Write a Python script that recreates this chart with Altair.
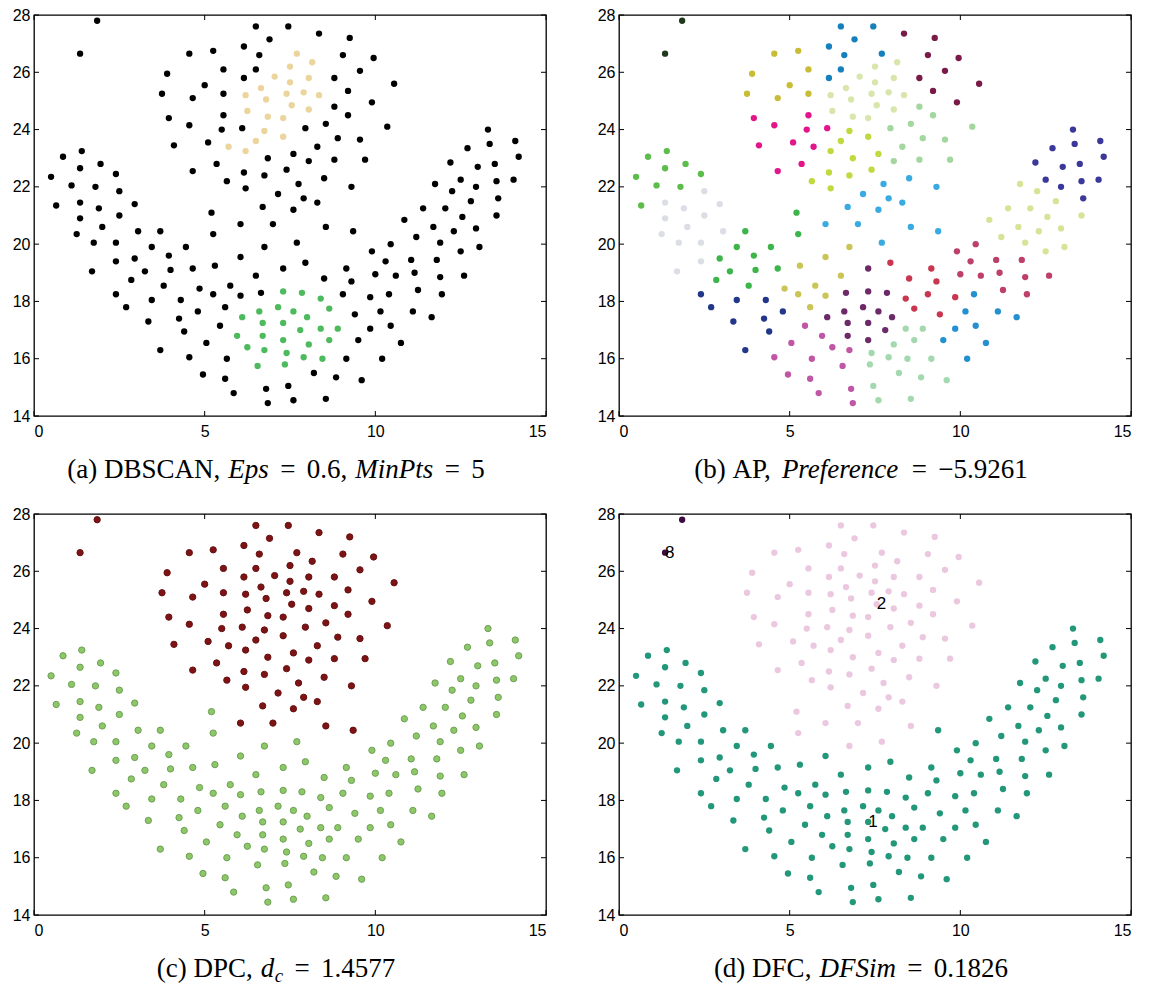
import altair as alt
import pandas as pd

# ---------------- point coordinates, grouped by the AP clusters of panel (b) ----------------
OUTLIERS = [(1.85, 27.8), (1.35, 26.65)]
GREEN_L = [(0.85, 23.05), (1.4, 23.25), (1.95, 22.8), (1.35, 22.65), (0.5, 22.35), (1.1, 22.05),
           (1.8, 22.0), (2.4, 22.45), (0.65, 21.35)]
GRAY = [(1.35, 21.45), (1.9, 21.25), (2.5, 21.85), (2.95, 21.4), (2.5, 21.0), (1.35, 20.9),
        (2.0, 20.6), (1.25, 20.35), (1.75, 20.05), (2.4, 20.05), (3.05, 20.45), (2.4, 19.4), (1.7, 19.05)]
GREEN_M = [(5.2, 21.1), (3.7, 20.45), (3.45, 19.9), (2.95, 19.5), (3.95, 19.6), (4.45, 19.9),
           (5.25, 20.35), (3.25, 19.05), (4.0, 19.1), (4.65, 19.15), (2.85, 18.75), (3.8, 18.55)]
NAVY = [(2.4, 18.25), (2.7, 17.8), (3.45, 18.05), (4.3, 18.05), (3.35, 17.3), (4.25, 17.4),
        (4.8, 17.65), (4.4, 16.95), (3.7, 16.3)]
OLIVE_T = [(3.75, 25.25), (3.9, 25.95), (4.55, 26.65), (5.25, 26.75), (5.55, 26.1), (5.0, 25.55),
           (4.65, 25.1), (5.55, 25.25)]
MAGENTA = [(3.95, 24.4), (4.55, 24.15), (4.1, 23.45), (5.1, 23.55), (5.55, 24.5), (5.5, 24.0),
           (5.7, 23.4), (6.1, 24.05), (5.35, 22.8), (4.65, 22.55)]
YGREEN = [(5.65, 22.2), (6.2, 21.95), (6.15, 22.5), (6.75, 22.4), (6.85, 23.0), (6.2, 23.25),
          (6.5, 23.6), (6.75, 23.95), (7.3, 23.75), (7.6, 23.15), (7.4, 22.6)]
BLUE_T = [(6.5, 27.6), (6.9, 27.15), (6.15, 26.9), (6.6, 26.6), (6.5, 26.1), (6.15, 25.8),
          (7.45, 27.6), (7.7, 26.65)]
PALE_C = [(6.2, 25.2), (6.65, 25.45), (6.8, 25.05), (7.05, 25.85), (6.25, 24.65), (6.85, 24.45),
          (7.3, 24.4), (7.5, 26.2), (8.15, 26.35), (7.5, 25.65), (8.05, 25.8), (7.4, 25.25),
          (7.9, 25.3), (8.35, 25.2), (7.55, 24.85), (8.05, 24.7)]
MINT_T = [(8.8, 24.8), (9.2, 24.5), (8.55, 24.2), (7.95, 24.05), (10.35, 24.1), (8.9, 23.7),
          (9.55, 23.65), (8.3, 23.4), (8.05, 22.9), (8.8, 22.95), (9.7, 22.95)]
MAROON = [(8.35, 27.35), (9.25, 27.2), (9.05, 26.6), (9.95, 26.5), (9.55, 26.05), (8.8, 25.8),
          (9.2, 25.35), (10.55, 25.6), (9.9, 24.95)]
SKY = [(7.15, 21.75), (6.7, 21.3), (7.75, 22.1), (8.5, 22.3), (9.3, 22.0), (7.9, 21.6), (8.3, 21.45),
       (7.6, 21.2), (6.05, 20.7), (7.0, 20.7), (8.55, 20.6), (9.35, 20.45), (7.7, 20.05)]
INDIGO = [(13.3, 24.0), (12.7, 23.35), (13.35, 23.5), (14.1, 23.6), (14.2, 23.05), (12.2, 22.85),
          (13.0, 22.7), (13.5, 22.8), (12.5, 22.25), (12.95, 22.0), (13.55, 22.2), (14.05, 22.25),
          (13.6, 21.6)]
PALE_R = [(11.75, 22.1), (12.25, 21.85), (12.8, 21.5), (11.4, 21.25), (12.05, 21.25), (12.55, 20.95),
          (13.55, 21.0), (10.85, 20.85), (11.7, 20.6), (12.3, 20.45), (12.95, 20.55), (11.2, 20.25),
          (11.9, 20.05), (12.5, 19.75), (13.05, 19.9)]
OLIVE_B = [(6.75, 19.9), (6.05, 19.55), (5.3, 19.25), (6.5, 18.9), (4.85, 18.45), (5.25, 18.25),
           (5.75, 18.55), (6.05, 18.2), (5.6, 17.8)]
DPURPLE = [(6.65, 18.3), (6.6, 17.65), (6.1, 17.45), (6.7, 17.25), (6.7, 16.8), (7.15, 17.8),
           (7.3, 19.15), (7.3, 18.35), (7.3, 17.25), (7.3, 16.65), (7.85, 18.3), (7.6, 17.65),
           (8.0, 17.45), (7.8, 17.0)]
ORCHID = [(5.45, 17.15), (5.95, 16.8), (5.05, 16.55), (6.25, 16.4), (6.75, 16.3), (4.55, 16.05),
          (5.65, 16.0), (6.55, 15.75), (4.95, 15.45), (5.6, 15.3), (5.85, 14.8), (6.8, 14.95),
          (6.85, 14.45)]
RASPB = [(10.45, 20.0), (9.9, 19.75), (10.3, 19.4), (11.05, 19.45), (11.8, 19.45), (10.0, 18.95),
         (10.6, 18.9), (11.15, 19.0), (11.9, 18.85), (12.6, 18.9), (11.25, 18.4), (11.95, 18.25)]
CRIMSON = [(7.95, 19.35), (9.15, 19.15), (8.5, 18.8), (9.3, 18.7), (8.4, 18.1), (9.05, 18.25),
           (9.85, 18.15), (8.65, 17.75), (9.4, 17.55)]
CERUL = [(10.4, 18.25), (10.15, 17.65), (11.1, 17.65), (11.65, 17.45), (9.85, 17.05), (10.45, 17.15),
         (9.5, 16.65), (10.75, 16.55), (10.2, 16.0)]
MINT_B = [(8.4, 17.05), (8.9, 17.05), (8.65, 16.65), (8.05, 16.5), (7.4, 16.2), (7.9, 16.05),
          (8.45, 16.0), (9.15, 16.0), (7.35, 15.8), (8.2, 15.5), (8.85, 15.35), (9.6, 15.25),
          (7.45, 15.05), (7.6, 14.55), (8.55, 14.6)]

B_GROUPS = [
    ("OUTLIERS", OUTLIERS, "#1e3a1b"), ("GREEN_L", GREEN_L, "#5cbd4b"), ("GRAY", GRAY, "#dcdee6"),
    ("GREEN_M", GREEN_M, "#3db54a"), ("NAVY", NAVY, "#22378a"), ("OLIVE_T", OLIVE_T, "#c9bd37"),
    ("MAGENTA", MAGENTA, "#e2168a"), ("YGREEN", YGREEN, "#c2d83f"), ("BLUE_T", BLUE_T, "#1580bc"),
    ("PALE_C", PALE_C, "#d8e6ab"), ("MINT_T", MINT_T, "#a2d79f"), ("MAROON", MAROON, "#7a1a48"),
    ("SKY", SKY, "#3aabe0"), ("INDIGO", INDIGO, "#3a3899"), ("PALE_R", PALE_R, "#d9e397"),
    ("OLIVE_B", OLIVE_B, "#cbc456"), ("DPURPLE", DPURPLE, "#6c2a68"), ("ORCHID", ORCHID, "#c056a6"),
    ("RASPB", RASPB, "#bd3f6c"), ("CRIMSON", CRIMSON, "#c9364f"), ("CERUL", CERUL, "#2391cf"),
    ("MINT_B", MINT_B, "#a4d9b0"),
]

# panel (a): DBSCAN clusters (everything else is black noise)
A_BEIGE = [(7.7, 26.65), (8.15, 26.35), (7.5, 26.2), (7.05, 25.85), (7.5, 25.65), (8.05, 25.8),
           (6.65, 25.45), (6.2, 25.2), (6.8, 25.05), (7.4, 25.25), (7.9, 25.3), (8.35, 25.2),
           (7.55, 24.85), (8.05, 24.7), (6.25, 24.65), (6.85, 24.45), (7.3, 24.4), (6.75, 23.95),
           (7.3, 23.75), (6.5, 23.6), (5.7, 23.4), (6.2, 23.25)]
A_GREEN = [(7.3, 18.35), (7.85, 18.3), (8.4, 18.1), (7.15, 17.8), (7.6, 17.65), (8.65, 17.75),
           (6.1, 17.45), (6.6, 17.65), (8.0, 17.45), (6.7, 17.25), (7.3, 17.25), (8.4, 17.05),
           (8.9, 17.05), (7.8, 17.0), (5.95, 16.8), (6.7, 16.8), (7.3, 16.65), (8.05, 16.5),
           (8.65, 16.65), (6.25, 16.4), (6.75, 16.3), (7.4, 16.2), (7.9, 16.05), (8.45, 16.0),
           (6.55, 15.75), (7.35, 15.8)]
# panels (c), (d): the upper flame, plus the few points where DPC / DFC differ
UPPER_GROUPS = ["OLIVE_T", "MAGENTA", "YGREEN", "BLUE_T", "PALE_C", "MINT_T", "MAROON", "SKY"]
C_LOWER_EXTRA = [(7.7, 20.05)]
D_UPPER_EXTRA = [(5.2, 21.1), (5.25, 20.35), (6.75, 19.9)]
D_LOWER_EXTRA = [(9.35, 20.45)]
D_TEXT = ["8", "2", "1"]
D_TEXT_X = [1.35, 7.55, 7.3]
D_TEXT_Y = [26.65, 24.85, 17.25]

# caption pieces: (text, style, blank before it in em); n = upright, i = italic, s = italic subscript
CAPTIONS = {
    "a": [("(a)", "n", 0), ("DBSCAN,", "n", 0.25), ("Eps", "i", 0.3), ("=", "n", 0.42), ("0.6,", "n", 0.42),
          ("MinPts", "i", 0.3), ("=", "n", 0.42), ("5", "n", 0.42)],
    "b": [("(b)", "n", 0), ("AP,", "n", 0.25), ("Preference", "i", 0.3), ("=", "n", 0.42),
          ("\u22125.9261", "n", 0.42)],
    "c": [("(c)", "n", 0), ("DPC,", "n", 0.25), ("d", "i", 0.3), ("c", "s", 0.02), ("=", "n", 0.42),
          ("1.4577", "n", 0.42)],
    "d": [("(d)", "n", 0), ("DFC,", "n", 0.25), ("DFSim", "i", 0.3), ("=", "n", 0.42), ("0.1826", "n", 0.42)],
}

X_TICKS = [0, 5, 10, 15]
Y_TICKS = [14, 16, 18, 20, 22, 24, 26, 28]

# ---------------- build table ----------------
def key(p):
    return (round(p[0], 2), round(p[1], 2))

rows = []
for name, pts, _c in B_GROUPS:
    for p in pts:
        rows.append({"x": p[0], "y": p[1], "b": name, "k": key(p)})
df = pd.DataFrame(rows)
beige = {key(p) for p in A_BEIGE}
agreen = {key(p) for p in A_GREEN}
c_low = {key(p) for p in C_LOWER_EXTRA}
d_up = {key(p) for p in D_UPPER_EXTRA}
d_low = {key(p) for p in D_LOWER_EXTRA}

df["a"] = ["beige" if k in beige else ("green" if k in agreen else "black") for k in df["k"]]
c_lab, d_lab = [], []
for b, k in zip(df["b"], df["k"]):
    up = b in UPPER_GROUPS
    if b == "OUTLIERS":
        c_lab.append("top"); d_lab.append("out")
        continue
    c_lab.append("top" if (up and k not in c_low) else "bottom")
    d_lab.append("top" if ((up and k not in d_low) or k in d_up) else "bottom")
df["c"] = c_lab
df["d"] = d_lab
df = df.drop(columns=["k"])

W, H = 512, 401
TL = 5
XS = alt.Scale(domain=[0, 15], nice=False, zero=False)
YS = alt.Scale(domain=[14, 28], nice=False, zero=False)
XA = alt.Axis(values=X_TICKS, ticks=False, domain=False, grid=False, title=None, labelPadding=7,
              labelFont="Liberation Sans", labelFontSize=16, labelColor="black", format="d")
YA = alt.Axis(values=Y_TICKS, ticks=False, domain=False, grid=False, title=None, labelPadding=4,
              labelFont="Liberation Sans", labelFontSize=16, labelColor="black", format="d")

# Times advance widths (per 1000 em) to chain the caption pieces
REG = {"(": 333, ")": 333, ",": 250, ".": 250, "=": 564, "\u2212": 564,
       "a": 444, "b": 500, "c": 444, "d": 500, "A": 722, "B": 667, "C": 667, "D": 722,
       "F": 556, "N": 722, "P": 556, "S": 556}
ITA = {"D": 722, "E": 611, "F": 611, "M": 833, "P": 611, "S": 500, "c": 444, "d": 500,
       "e": 444, "f": 278, "i": 278, "m": 722, "n": 500, "p": 500, "r": 389, "s": 389, "t": 278}
CAP_SIZE = 27
CAP_SHIFT = -14    # the printed caption is centred on the whole sub-figure, tick labels included


def tw(text, style, size):
    table = REG if style == "n" else ITA
    return sum(table.get(ch, 500) for ch in text) / 1000 * size


def caption_layers(segs):
    sizes = [CAP_SIZE * (0.7 if s == "s" else 1.0) for _, s, _g in segs]
    spans = [g * CAP_SIZE + tw(t, s, z) for (t, s, g), z in zip(segs, sizes)]
    cur = W / 2 - sum(spans) / 2 + CAP_SHIFT
    out = []
    for (t, s, g), z, sp in zip(segs, sizes, spans):
        out.append(
            alt.Chart(pd.DataFrame({"t": [t]}))
            .mark_text(align="left", baseline="alphabetic", font="Liberation Serif", fontSize=z,
                       fontStyle="normal" if s == "n" else "italic", color="black")
            .encode(text="t:N", x=alt.value(cur + g * CAP_SIZE),
                    y=alt.value(H + 62 + (5 if s == "s" else 0)))
        )
        cur += sp
    return out


def tick_layers():
    xt = pd.DataFrame({"v": X_TICKS})
    yt = pd.DataFrame({"v": Y_TICKS})
    xr = alt.X("v:Q", scale=XS, axis=XA)
    yr = alt.Y("v:Q", scale=YS, axis=YA)
    return [
        alt.Chart(xt).mark_rule(color="black").encode(x=xr, y=alt.value(H), y2=alt.value(H - TL)),
        alt.Chart(xt).mark_rule(color="black").encode(x=xr, y=alt.value(0), y2=alt.value(TL)),
        alt.Chart(yt).mark_rule(color="black").encode(y=yr, x=alt.value(0), x2=alt.value(TL)),
        alt.Chart(yt).mark_rule(color="black").encode(y=yr, x=alt.value(W), x2=alt.value(W - TL)),
    ]


def panel(field, domain, colors, size, cap, strokes=None, texts=False):
    enc = dict(
        x=alt.X("x:Q", scale=XS, axis=XA),
        y=alt.Y("y:Q", scale=YS, axis=YA),
        color=alt.Color(f"{field}:N", scale=alt.Scale(domain=domain, range=colors), legend=None),
    )
    if strokes:
        enc["stroke"] = alt.Stroke(f"{field}:N", scale=alt.Scale(domain=domain, range=strokes), legend=None)
        pts = alt.Chart(df).mark_circle(size=size, opacity=1, strokeWidth=1).encode(**enc)
    else:
        pts = alt.Chart(df).mark_circle(size=size, opacity=1).encode(**enc)
    layers = [pts] + tick_layers()
    if texts:
        tdf = pd.DataFrame({"t": D_TEXT, "x": D_TEXT_X, "y": D_TEXT_Y})
        layers.append(
            alt.Chart(tdf).mark_text(align="left", baseline="middle", font="Liberation Sans",
                                     fontSize=17, color="black")
            .encode(x=alt.X("x:Q", scale=XS, axis=XA), y=alt.Y("y:Q", scale=YS, axis=YA), text="t:N")
        )
    layers += caption_layers(CAPTIONS[cap])
    return alt.layer(*layers).properties(width=W, height=H)


pa = panel("a", ["black", "beige", "green"], ["#000000", "#ebd59c", "#4dba5e"], 40, "a")
pb = panel("b", [g[0] for g in B_GROUPS], [g[2] for g in B_GROUPS], 40, "b")
pc = panel("c", ["top", "bottom"], ["#7c1416", "#8dc868"], 40, "c", strokes=["#6a1012", "#6f9f55"])
pd_ = panel("d", ["out", "top", "bottom"], ["#3e0b3e", "#ebc8df", "#22977a"], 40, "d", texts=True)

row1 = alt.hconcat(pa, pb, spacing=48).resolve_scale(color="independent", stroke="independent")
row2 = alt.hconcat(pc, pd_, spacing=48).resolve_scale(color="independent", stroke="independent")
chart = (
    alt.vconcat(row1, row2, spacing=21)
    .resolve_scale(color="independent", stroke="independent")
    .properties(padding={"left": 11, "top": 6, "right": 5, "bottom": 5}, background="white")
    .configure_view(stroke="black", strokeWidth=1.3)
)
chart.save("out.html", embed_options={"renderer": "svg", "actions": False})
